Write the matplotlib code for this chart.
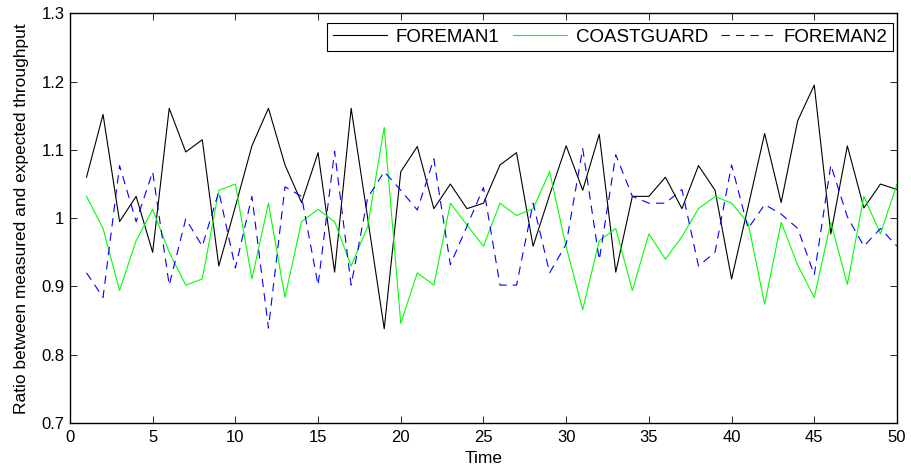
import numpy as np
import matplotlib
matplotlib.use("Agg")
import matplotlib.pyplot as plt
import matplotlib.ticker as mticker

plt.rcParams["font.family"] = ["Liberation Sans", "DejaVu Sans"]

# ---------------------------------------------------------------------------
# Data
# ---------------------------------------------------------------------------
time = np.arange(1, 51)

foreman1 = [1.060, 1.152, 0.995, 1.032, 0.950, 1.161, 1.097, 1.115, 0.930, 1.017,
            1.106, 1.161, 1.078, 1.023, 1.096, 0.921, 1.161, 1.000, 0.838, 1.068,
            1.105, 1.014, 1.050, 1.014, 1.022, 1.078, 1.096, 0.959, 1.034, 1.106,
            1.041, 1.123, 0.921, 1.032, 1.032, 1.060, 1.014, 1.077, 1.041, 0.911,
            1.017, 1.124, 1.023, 1.143, 1.195, 0.977, 1.106, 1.015, 1.050, 1.042]

coastguard = [1.032, 0.985, 0.894, 0.967, 1.013, 0.950, 0.902, 0.911, 1.041, 1.050,
              0.911, 1.022, 0.884, 0.995, 1.013, 0.995, 0.930, 0.988, 1.133, 0.846,
              0.920, 0.902, 1.022, 0.990, 0.959, 1.022, 1.004, 1.014, 1.068, 0.958,
              0.866, 0.967, 0.985, 0.894, 0.977, 0.940, 0.973, 1.014, 1.032, 1.022,
              0.993, 0.874, 0.994, 0.931, 0.884, 0.994, 0.903, 1.032, 0.977, 1.050]

foreman2 = [0.920, 0.884, 1.077, 0.995, 1.068, 0.902, 0.999, 0.959, 1.039, 0.927,
            1.032, 0.839, 1.046, 1.032, 0.902, 1.098, 0.902, 1.030, 1.068, 1.041,
            1.012, 1.087, 0.932, 0.988, 1.045, 0.902, 0.902, 1.022, 0.920, 0.962,
            1.102, 0.939, 1.093, 1.032, 1.022, 1.022, 1.042, 0.930, 0.950, 1.078,
            0.985, 1.020, 1.006, 0.985, 0.917, 1.078, 1.002, 0.959, 0.985, 0.959]

x_ticks = np.arange(0, 51, 5)
y_ticks = [0.7, 0.8, 0.9, 1.0, 1.1, 1.2, 1.3]

# ---------------------------------------------------------------------------
# Figure
# ---------------------------------------------------------------------------
fig = plt.figure(figsize=(9.11, 4.72), dpi=100)
ax = fig.add_axes([0.0768, 0.1038, 0.9078, 0.8678])

ax.plot(time, foreman1, color="black", linewidth=0.8, label="FOREMAN1")
ax.plot(time, coastguard, color="#00ff00", linewidth=0.8, label="COASTGUARD")
ax.plot(time, foreman2, color="#0000ff", linewidth=0.8, dashes=(7.5, 5.5),
        label="FOREMAN2")

ax.set_xlim(0, 50)
ax.set_ylim(0.7, 1.3)
ax.set_xticks(x_ticks)
ax.set_yticks(y_ticks)
ax.yaxis.set_major_formatter(mticker.FuncFormatter(lambda v, p: f"{v:g}"))
ax.tick_params(direction="in", length=5, width=0.6, labelsize=12,
               top=True, right=True)
ax.tick_params(axis="x", pad=5)
ax.tick_params(axis="y", pad=4)
for sp in ax.spines.values():
    sp.set_linewidth(1.0)

ax.set_xlabel("Time", fontsize=12.5, labelpad=4)
ax.set_ylabel("Ratio between measured and expected throughput", fontsize=12.5,
              labelpad=9)

leg = ax.legend(loc="upper right", ncol=3, fontsize=13.5, fancybox=False,
                framealpha=1, edgecolor="black", handlelength=2.9,
                handletextpad=0.45, columnspacing=0.7, borderpad=0.3,
                borderaxespad=0, bbox_to_anchor=(0.9955, 0.977))
leg.get_frame().set_linewidth(0.8)

fig.savefig("out.png", dpi=100)
